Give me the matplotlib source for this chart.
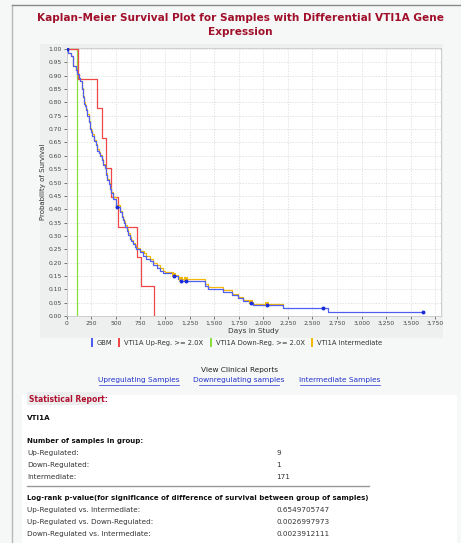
import matplotlib
matplotlib.use("Agg")
import matplotlib.pyplot as plt
from matplotlib.patches import Rectangle
from matplotlib.lines import Line2D

W, H = 461, 543

# survival curves (days, probability) - step after each day
gbm_days = [0, 17, 40, 60, 68, 95, 108, 125, 136, 152, 165, 176, 190, 197, 210, 225, 237, 250,
            261, 281, 295, 312, 325, 339, 355, 373, 388, 400, 412, 427, 440, 451, 468, 505, 540,
            559, 570, 583, 597, 610, 625, 644, 658, 671, 690, 705, 746, 780, 810, 850, 881, 915,
            949, 983, 1085, 1129, 1153, 1410, 1440, 1590, 1680, 1745, 1790, 1870, 1900, 2205,
            2663, 3628]
gbm_surv = [1.0, 0.985, 0.975, 0.96, 0.935, 0.92, 0.905, 0.89, 0.88, 0.85, 0.82, 0.795, 0.785,
            0.77, 0.75, 0.725, 0.70, 0.69, 0.675, 0.655, 0.64, 0.62, 0.61, 0.60, 0.585, 0.565,
            0.555, 0.53, 0.51, 0.495, 0.475, 0.46, 0.44, 0.41, 0.39, 0.37, 0.36, 0.35, 0.335,
            0.32, 0.305, 0.29, 0.28, 0.27, 0.26, 0.25, 0.24, 0.225, 0.215, 0.205, 0.19, 0.18,
            0.17, 0.16, 0.148, 0.14, 0.13, 0.112, 0.10, 0.09, 0.077, 0.068, 0.056, 0.048, 0.041,
            0.031, 0.016, 0.016]
gbm_cens_days = [0, 512, 1095, 1163, 1214, 1872, 2034, 2604, 3628]
gbm_cens_surv = [1.0, 0.41, 0.148, 0.13, 0.13, 0.048, 0.041, 0.031, 0.016]

mid_days = [0, 17, 40, 60, 68, 95, 108, 125, 136, 152, 165, 176, 190, 197, 210, 225, 237, 250,
            261, 281, 295, 312, 325, 339, 355, 373, 388, 400, 412, 427, 440, 451, 468, 505, 540,
            559, 570, 583, 597, 610, 625, 644, 658, 671, 690, 705, 746, 790, 810, 850, 881, 915,
            949, 983, 1000, 1085, 1129, 1153, 1410, 1440, 1590, 1680, 1745, 1790, 1870, 1900,
            2205]
mid_surv = [1.0, 0.985, 0.975, 0.96, 0.935, 0.92, 0.905, 0.89, 0.88, 0.855, 0.825, 0.80, 0.79,
            0.775, 0.755, 0.73, 0.705, 0.695, 0.68, 0.66, 0.645, 0.625, 0.615, 0.605, 0.59, 0.57,
            0.56, 0.535, 0.515, 0.50, 0.48, 0.465, 0.445, 0.415, 0.395, 0.375, 0.365, 0.355,
            0.34, 0.325, 0.31, 0.295, 0.285, 0.275, 0.265, 0.255, 0.245, 0.235, 0.225, 0.215,
            0.20, 0.19, 0.18, 0.17, 0.165, 0.155, 0.147, 0.138, 0.12, 0.107, 0.096, 0.082, 0.073,
            0.06, 0.052, 0.044, 0.044]
mid_cens_days = [1095, 1163, 1214, 1872, 2034]
mid_cens_surv = [0.155, 0.138, 0.138, 0.052, 0.044]

up_days = [0, 112, 305, 363, 396, 450, 522, 715, 759, 888]
up_surv = [1.0, 0.889, 0.778, 0.667, 0.556, 0.444, 0.333, 0.222, 0.111, 0.0]

down_days = [0, 102]
down_surv = [1.0, 0.0]

legend_labels = ["GBM", "VTI1A Up-Reg. >= 2.0X", "VTI1A Down-Reg. >= 2.0X", "VTI1A Intermediate"]
colors = ["#4f5ff0", "#f04848", "#88e040", "#f5b90a"]

n_labels = ["Up-Regulated:", "Down-Regulated:", "Intermediate:"]
n_values = ["9", "1", "171"]
p_labels = ["Up-Regulated vs. Intermediate:", "Up-Regulated vs. Down-Regulated:",
            "Down-Regulated vs. Intermediate:"]
p_values = ["0.6549705747", "0.0026997973", "0.0023912111"]


def fx(x):
    return x / W


def fy(y):
    return 1 - y / H


fig = plt.figure(figsize=(W / 100, H / 100), dpi=100, facecolor="#f6f7f7")

# page furniture
fig.patches.append(Rectangle((fx(40), fy(338)), fx(403), 294 / H, transform=fig.transFigure,
                             facecolor="#eef0f0", edgecolor="none", zorder=0))
fig.patches.append(Rectangle((fx(22), fy(543)), fx(435), 148 / H, transform=fig.transFigure,
                             facecolor="white", edgecolor="none", zorder=0))
fig.patches.append(Rectangle((fx(27), fy(405)), fx(76), 13 / H, transform=fig.transFigure,
                             facecolor="#eceeee", edgecolor="none", zorder=1))
fig.lines.append(Line2D([fx(12), fx(12)], [fy(5), 0], transform=fig.transFigure,
                        color="#b8b8b8", lw=1))
fig.lines.append(Line2D([fx(12), 1], [fy(5), fy(5)], transform=fig.transFigure,
                        color="#8a8a8a", lw=1))

fig.text(fx(240), fy(18), "Kaplan-Meier Survival Plot for Samples with Differential VTI1A Gene",
         ha="center", va="center", fontsize=7.6, fontweight="bold", color="#a0102a")
fig.text(fx(240), fy(32), "Expression", ha="center", va="center", fontsize=7.6,
         fontweight="bold", color="#a0102a")

ax = fig.add_axes([fx(66.7), fy(316), (441 - 66.7) / W, (316 - 48) / H])
ax.set_zorder(3)
ax.set_facecolor("white")
ax.set_xlim(0, 3808)
ax.set_ylim(0, 1.004)
ax.set_xticks(range(0, 3751, 250))
ax.set_xticklabels([f"{v:,}" for v in range(0, 3751, 250)])
ax.set_yticks([i * 0.05 for i in range(21)])
ax.set_yticklabels([f"{i * 0.05:.2f}" for i in range(21)])
ax.tick_params(labelsize=4.3, colors="#444444", length=2, width=0.5, pad=1.5)
ax.grid(True, color="#d8d8d8", linestyle=(0, (2, 2)), lw=0.5)
for s in ax.spines.values():
    s.set_color("#c8c8c8")
    s.set_linewidth(0.6)
ax.set_xlabel("Days in Study", fontsize=5.3, color="#333333", labelpad=1.5)
ax.set_ylabel("Probability of Survival", fontsize=5, color="#333333", labelpad=2)

ax.step(down_days, down_surv, where="post", color=colors[2], lw=0.9, zorder=3)
ax.step(up_days, up_surv, where="post", color=colors[1], lw=0.9, zorder=3)
ax.step(mid_days, mid_surv, where="post", color=colors[3], lw=0.9, zorder=4)
ax.step(gbm_days, gbm_surv, where="post", color=colors[0], lw=0.9, zorder=5)
ax.scatter(mid_cens_days, mid_cens_surv, marker="s", s=12, color=colors[3], zorder=6,
           linewidths=0)
ax.scatter(gbm_cens_days, gbm_cens_surv, marker="o", s=8, color="#1a2bd8", zorder=7,
           linewidths=0)

# legend
leg_x = [91, 118, 210, 311]
for x, c, lab in zip(leg_x, colors, legend_labels):
    fig.patches.append(Rectangle((fx(x), fy(347)), 2 / W, 9 / H, transform=fig.transFigure,
                                 facecolor=c, edgecolor="none"))
    fig.text(fx(x + 6), fy(343), lab, ha="left", va="center", fontsize=4.9, color="#333333")

fig.text(fx(239), fy(370), "View Clinical Reports", ha="center", va="center", fontsize=5.3,
         color="#222222")
for x, lab in zip([139, 239, 340], ["Upregulating Samples", "Downregulating samples",
                                      "Intermediate Samples"]):
    fig.text(fx(x), fy(380), lab, ha="center", va="center", fontsize=5.3, color="#2233cc")
    fig.lines.append(Line2D([fx(x - 40), fx(x + 40)], [fy(384.5), fy(384.5)],
                            transform=fig.transFigure, color="#2233cc", lw=0.5))

# statistical report
fig.text(fx(29), fy(399), "Statistical Report:", ha="left", va="center", fontsize=5.5,
         fontweight="bold", color="#b01030")
fig.text(fx(27), fy(418), "VTI1A", ha="left", va="center", fontsize=5.1, fontweight="bold",
         color="#111111")
fig.text(fx(27), fy(441), "Number of samples in group:", ha="left", va="center", fontsize=5.05,
         fontweight="bold", color="#111111")
for i, (lab, val) in enumerate(zip(n_labels, n_values)):
    y = 453 + 12 * i
    fig.text(fx(27), fy(y), lab, ha="left", va="center", fontsize=5.2, color="#333333")
    fig.text(fx(276), fy(y), val, ha="left", va="center", fontsize=5.2, color="#333333")
fig.lines.append(Line2D([fx(27), fx(369)], [fy(486), fy(486)], transform=fig.transFigure,
                        color="#999999", lw=1))
fig.text(fx(27), fy(498),
         "Log-rank p-value(for significance of difference of survival between group of samples)",
         ha="left", va="center", fontsize=5.05, fontweight="bold", color="#111111")
for i, (lab, val) in enumerate(zip(p_labels, p_values)):
    y = 510 + 12 * i
    fig.text(fx(27), fy(y), lab, ha="left", va="center", fontsize=5.2, color="#333333")
    fig.text(fx(276), fy(y), val, ha="left", va="center", fontsize=5.2, color="#333333")

fig.savefig("out.png", dpi=100, facecolor=fig.get_facecolor())
